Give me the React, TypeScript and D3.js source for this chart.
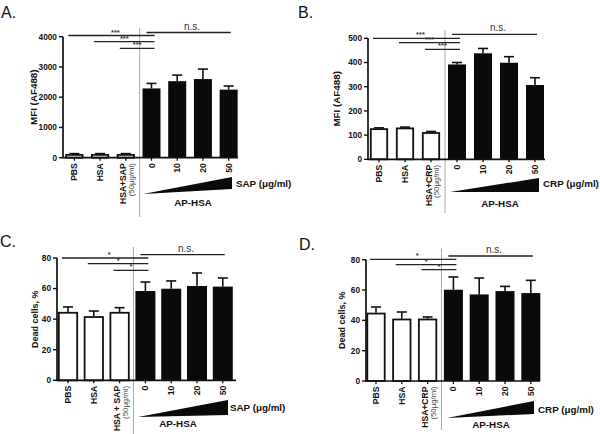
import React from "react";
import * as d3 from "d3";

// ---------- data ----------
const catsSAP = ["PBS", "HSA", "HSA+SAP", "0", "10", "20", "50"];
const catsCRP = ["PBS", "HSA", "HSA+CRP", "0", "10", "20", "50"];
const catsSAPc = ["PBS", "HSA", "HSA + SAP", "0", "10", "20", "50"];
const subLabel = "(50μg/ml)";

const mfiSAP = [120, 120, 120, 2290, 2530, 2600, 2250];
const mfiSAPErr = [15, 15, 15, 165, 200, 330, 120];
const mfiCRP = [128, 131, 112, 392, 438, 399, 307];
const mfiCRPErr = [2, 2, 3, 8, 20, 25, 30];
const deadSAP = [44.7, 41.9, 44.7, 58.4, 59.9, 61.7, 61.3];
const deadSAPErr = [3.3, 3.4, 2.8, 5.9, 5.1, 8.5, 5.6];
const deadCRP = [45, 41.1, 41.1, 60.2, 57.1, 59.3, 58];
const deadCRPErr = [3.8, 4.4, 1.1, 8.4, 10.8, 3.1, 8.4];

const ticksMFI_A = [0, 1000, 2000, 3000, 4000];
const ticksMFI_B = [0, 100, 200, 300, 400, 500];
const ticksDead = [0, 20, 40, 60, 80];

const FONT = "'Liberation Sans', Arial, sans-serif";

type PanelProps = {
  letter: string;
  letterPos: [number, number];
  cats: string[];
  values: number[];
  errs: number[];
  ticks: number[];
  yMax: number;
  yLabel: string;
  yLabelX: number;
  yLabelSize: number;
  axisX: number;
  band: [number, number];
  axisEnd: number;
  yTop: number;
  yBottom: number;
  barW: number;
  sepTop: number;
  sepBottom: number;
  stars: string;
  sigY: number[];
  agent: string;
  agentPos: [number, number];
  tri: [number, number, number, number, number];
  apPos: [number, number];
};

function Panel(p: PanelProps) {
  const x = d3.scaleBand<string>().domain(p.cats).range(p.band).paddingInner(0);
  const y = d3.scaleLinear().domain([0, p.yMax]).range([p.yBottom, p.yTop]);
  const step = x.step();
  const cx = (i: number) => (x(p.cats[i]) as number) + step / 2;
  const sepX = (cx(2) + cx(3)) / 2 + 1;
  const tri = d3.line()([
    [p.tri[0], p.tri[1]],
    [p.tri[2], p.tri[3]],
    [p.tri[2], p.tri[4]],
  ]) + "Z";
  const sigStarts = [0, 1, 2];
  const endX = cx(3) + 3;
  return (
    <g fontFamily={FONT}>
      <text x={p.letterPos[0]} y={p.letterPos[1]} fontSize={16} fill="#111">{p.letter}</text>
      <line x1={sepX} x2={sepX} y1={p.sepTop} y2={p.sepBottom} stroke="#aaa" strokeWidth={1} />
      {p.values.map((v, i) => {
        const white = i < 3;
        const c = cx(i);
        const top = y(v);
        const et = y(v + p.errs[i]);
        return (
          <g key={i}>
            <line x1={c} x2={c} y1={top} y2={et} stroke="#111" strokeWidth={1.6} />
            <line x1={c - 5} x2={c + 5} y1={et} y2={et} stroke="#111" strokeWidth={1.6} />
            <rect
              x={c - p.barW / 2 + (white ? 0.8 : 0)}
              y={top + (white ? 0.8 : 0)}
              width={p.barW - (white ? 1.6 : 0)}
              height={p.yBottom - top - (white ? 0.8 : 0)}
              fill={white ? "#fff" : "#0a0a0a"}
              stroke="#111"
              strokeWidth={white ? 1.8 : 0}
            />
          </g>
        );
      })}
      <line x1={p.axisX} x2={p.axisX} y1={p.yTop} y2={p.yBottom} stroke="#111" strokeWidth={1.7} />
      {p.ticks.map((t) => (
        <g key={t}>
          <line x1={p.axisX - 4} x2={p.axisX} y1={y(t)} y2={y(t)} stroke="#111" strokeWidth={1.4} />
          <text x={p.axisX - 6} y={y(t)} dy="0.35em" textAnchor="end" fontSize={8.3} fontWeight="bold" fill="#111">
            {t}
          </text>
        </g>
      ))}
      <text
        transform={`translate(${p.yLabelX},${(p.yTop + p.yBottom) / 2}) rotate(-90)`}
        textAnchor="middle"
        fontSize={p.yLabelSize}
        fontWeight="bold"
        fill="#111"
      >
        {p.yLabel}
      </text>
      <line x1={p.axisX - 0.8} x2={p.axisEnd} y1={p.yBottom} y2={p.yBottom} stroke="#111" strokeWidth={1.7} />
      {p.cats.map((c, i) => {
        const xc = cx(i);
        const two = i === 2;
        return (
          <g key={c}>
            <line x1={xc} x2={xc} y1={p.yBottom} y2={p.yBottom + 3} stroke="#111" strokeWidth={1.3} />
            <text
              transform={`translate(${two ? xc - 2.5 : xc},${p.yBottom + 5.5}) rotate(-90)`}
              textAnchor="end"
              dy="0.35em"
              fontSize={8.6}
              fontWeight="bold"
              fill="#111"
            >
              {c}
            </text>
            {two && (
              <text
                transform={`translate(${xc + 5.5},${p.yBottom + 5.5}) rotate(-90)`}
                textAnchor="end"
                dy="0.35em"
                fontSize={7.8}
                fill="#444"
              >
                {subLabel}
              </text>
            )}
          </g>
        );
      })}
      {sigStarts.map((s, k) => {
        const x0 = cx(s) - 6;
        return (
          <g key={k}>
            <line x1={x0} x2={endX} y1={p.sigY[k]} y2={p.sigY[k]} stroke="#222" strokeWidth={1.3} />
            <text x={(x0 + endX) / 2 + (k === 0 ? 4 : 0)} y={p.sigY[k] - 1} textAnchor="middle" fontSize={7.5} fontWeight="bold" fill="#333">
              {p.stars}
            </text>
          </g>
        );
      })}
      <line x1={cx(3) - 5} x2={cx(6) + 2} y1={p.sigY[3]} y2={p.sigY[3]} stroke="#222" strokeWidth={1.3} />
      <text x={(cx(3) + cx(6)) / 2 + 2} y={p.sigY[3] - 3} textAnchor="middle" fontSize={10} fill="#333">
        n.s.
      </text>
      <path d={tri} fill="#0a0a0a" />
      <text x={p.agentPos[0]} y={p.agentPos[1]} fontSize={9.8} fontWeight="bold" fill="#111">
        {p.agent}
      </text>
      <text x={p.apPos[0]} y={p.apPos[1]} textAnchor="middle" fontSize={9.8} fontWeight="bold" fill="#111">
        AP-HSA
      </text>
    </g>
  );
}

export default function App() {
  return (
    <svg width={600} height={434} style={{ position: "absolute", left: 0, top: 0, background: "#fff" }}>
      <rect width={600} height={434} fill="#fff" />
      <Panel
        letter="A." letterPos={[1, 18]}
        cats={catsSAP} values={mfiSAP} errs={mfiSAPErr} ticks={ticksMFI_A} yMax={4000}
        yLabel="MFI (AF488)" yLabelX={37} yLabelSize={9.8}
        axisX={63} band={[61.5, 241.5]} axisEnd={238} yTop={36.7} yBottom={157.7} barW={18}
        sepTop={28} sepBottom={217}
        stars="***" sigY={[35.5, 41.7, 48.3, 32.5]}
        agent="SAP (μg/ml)" agentPos={[236, 187]}
        tri={[143, 194, 232, 177, 189]} apPos={[193, 206]}
      />
      <Panel
        letter="B." letterPos={[298, 18]}
        cats={catsCRP} values={mfiCRP} errs={mfiCRPErr} ticks={ticksMFI_B} yMax={500}
        yLabel="MFI (AF488)" yLabelX={340} yLabelSize={9.8}
        axisX={368} band={[366, 548]} axisEnd={545} yTop={38.3} yBottom={159.3} barW={18}
        sepTop={30} sepBottom={213}
        stars="***" sigY={[38.3, 42.7, 49.3, 34.3]}
        agent="CRP (μg/ml)" agentPos={[543, 187]}
        tri={[450, 192, 539, 178, 192]} apPos={[500, 207]}
      />
      <Panel
        letter="C." letterPos={[0, 247]}
        cats={catsSAPc} values={deadSAP} errs={deadSAPErr} ticks={ticksDead} yMax={80}
        yLabel="Dead cells, %" yLabelX={38} yLabelSize={9}
        axisX={57} band={[55.1, 235.7]} axisEnd={236} yTop={258} yBottom={380.3} barW={20}
        sepTop={247} sepBottom={434}
        stars="*" sigY={[258, 263.7, 270.3, 254.7]}
        agent="SAP (μg/ml)" agentPos={[230, 411]}
        tri={[138, 417, 228, 400, 415]} apPos={[178, 427]}
      />
      <Panel
        letter="D." letterPos={[299, 250]}
        cats={catsCRP} values={deadCRP} errs={deadCRPErr} ticks={ticksDead} yMax={80}
        yLabel="Dead cells, %" yLabelX={345} yLabelSize={9}
        axisX={366} band={[363.1, 543.7]} axisEnd={540} yTop={259.7} yBottom={381} barW={19}
        sepTop={249} sepBottom={430}
        stars="*" sigY={[259.3, 264.7, 269.7, 256]}
        agent="CRP (μg/ml)" agentPos={[538, 413]}
        tri={[447, 418, 534, 401, 414]} apPos={[491, 428]}
      />
    </svg>
  );
}
